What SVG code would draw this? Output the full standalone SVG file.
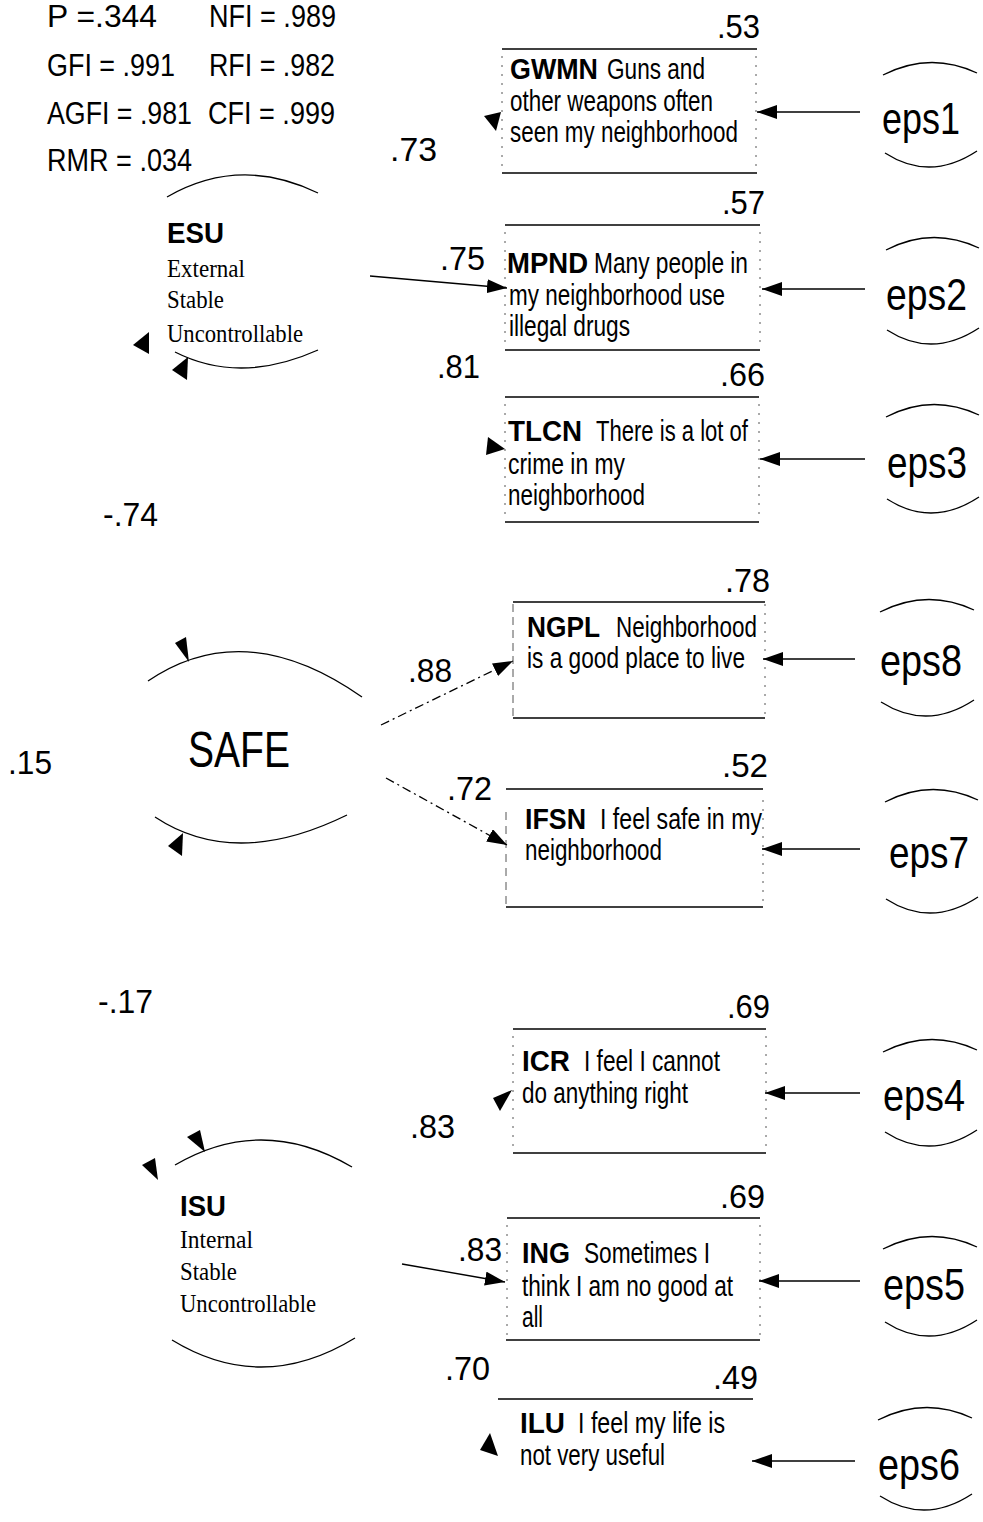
<svg xmlns="http://www.w3.org/2000/svg" width="983" height="1522" viewBox="0 0 983 1522">
<style>
text{font-family:"Liberation Sans",Arial,sans-serif;fill:#000}
.st{font-size:32px}
.num{font-size:34px}
.bx{font-size:29px}
.b{font-weight:bold}
.sf{font-family:"Liberation Serif","Times New Roman",serif;font-size:26px}
.eps{font-size:44px}
.ln{stroke:#000;stroke-width:1.4;fill:none}
.arc{stroke:#000;stroke-width:1.3;fill:none}
.side{stroke:#555;stroke-width:1;stroke-dasharray:2 7;fill:none}
.dd{stroke:#000;stroke-width:1.3;fill:none;stroke-dasharray:9 4 2 4}
.ah{fill:#000}
</style>
<defs>
<marker id="arr" viewBox="0 0 20 14" refX="20" refY="7" markerWidth="20" markerHeight="14" orient="auto" markerUnits="userSpaceOnUse"><path d="M0,0 L20,7 L0,14 z" fill="#000"/></marker>
</defs>
<rect width="983" height="1522" fill="#fff"/>

<g id="fit-stats">
<text class="st" x="47" y="27" textLength="110" lengthAdjust="spacingAndGlyphs">P =.344</text>
<text class="st" x="209" y="27" textLength="127" lengthAdjust="spacingAndGlyphs">NFI = .989</text>
<text class="st" x="47" y="76" textLength="128" lengthAdjust="spacingAndGlyphs">GFI = .991</text>
<text class="st" x="209" y="76" textLength="126" lengthAdjust="spacingAndGlyphs">RFI = .982</text>
<text class="st" x="47" y="124" textLength="145" lengthAdjust="spacingAndGlyphs">AGFI = .981</text>
<text class="st" x="208" y="124" textLength="127" lengthAdjust="spacingAndGlyphs">CFI = .999</text>
<text class="st" x="47" y="171" textLength="145" lengthAdjust="spacingAndGlyphs">RMR = .034</text>
</g>

<g id="ESU">
<path class="arc" d="M167 197 Q240 155 318 193"/>
<path class="arc" d="M175 352 Q240 385 318 350"/>
<text class="b" x="167" y="243" font-size="29" textLength="57" lengthAdjust="spacingAndGlyphs">ESU</text>
<text class="sf" x="167" y="277" textLength="78" lengthAdjust="spacingAndGlyphs">External</text>
<text class="sf" x="167" y="308" textLength="57" lengthAdjust="spacingAndGlyphs">Stable</text>
<text class="sf" x="167" y="342" textLength="136" lengthAdjust="spacingAndGlyphs">Uncontrollable</text>
<polygon class="ah" points="133,345 149,332 149,354"/>
<polygon class="ah" points="172,370 188,357 187,380"/>
</g>

<g id="SAFE">
<path class="arc" d="M148 681 Q245 615 362 697"/>
<path class="arc" d="M155 817 Q235 870 347 815"/>
<text x="188" y="767" font-size="50" textLength="102" lengthAdjust="spacingAndGlyphs">SAFE</text>
<polygon class="ah" points="175,643 186,637 189,662"/>
<polygon class="ah" points="168,846 183,833 182,856"/>
</g>

<g id="ISU">
<path class="arc" d="M175 1165 Q262 1114 352 1167"/>
<path class="arc" d="M172 1340 Q262 1395 355 1338"/>
<text class="b" x="180" y="1216" font-size="29" textLength="46" lengthAdjust="spacingAndGlyphs">ISU</text>
<text class="sf" x="180" y="1248" textLength="73" lengthAdjust="spacingAndGlyphs">Internal</text>
<text class="sf" x="180" y="1280" textLength="57" lengthAdjust="spacingAndGlyphs">Stable</text>
<text class="sf" x="180" y="1312" textLength="136" lengthAdjust="spacingAndGlyphs">Uncontrollable</text>
<polygon class="ah" points="187,1137 200,1130 205,1152"/>
<polygon class="ah" points="142,1165 155,1158 158,1180"/>
</g>

<g id="GWMN">
<line class="ln" x1="502" y1="49" x2="757" y2="49"/>
<line class="ln" x1="502" y1="173" x2="757" y2="173"/>
<line class="side" x1="502" y1="56" x2="502" y2="170"/>
<line class="side" x1="756" y1="56" x2="756" y2="170"/>
<text class="bx b" x="510" y="79" textLength="88" lengthAdjust="spacingAndGlyphs">GWMN</text>
<text class="bx" x="607" y="79" textLength="98" lengthAdjust="spacingAndGlyphs">Guns and</text>
<text class="bx" x="510" y="111" textLength="203" lengthAdjust="spacingAndGlyphs">other weapons often</text>
<text class="bx" x="510" y="142" textLength="228" lengthAdjust="spacingAndGlyphs">seen my neighborhood</text>
<polygon class="ah" points="484,116 501,112 496,131"/>
</g>

<g id="MPND">
<line class="ln" x1="505" y1="225" x2="760" y2="225"/>
<line class="ln" x1="505" y1="350" x2="760" y2="350"/>
<line class="side" x1="505" y1="232" x2="505" y2="346"/>
<line class="side" x1="760" y1="232" x2="760" y2="346"/>
<text class="bx b" x="507" y="273" textLength="81" lengthAdjust="spacingAndGlyphs">MPND</text>
<text class="bx" x="594" y="273" textLength="154" lengthAdjust="spacingAndGlyphs">Many people in</text>
<text class="bx" x="509" y="305" textLength="216" lengthAdjust="spacingAndGlyphs">my neighborhood use</text>
<text class="bx" x="509" y="336" textLength="121" lengthAdjust="spacingAndGlyphs">illegal drugs</text>
</g>

<g id="TLCN">
<line class="ln" x1="505" y1="397" x2="759" y2="397"/>
<line class="ln" x1="505" y1="522" x2="759" y2="522"/>
<line class="side" x1="505" y1="404" x2="505" y2="518"/>
<line class="side" x1="759" y1="404" x2="759" y2="518"/>
<text class="bx b" x="508" y="441" textLength="74" lengthAdjust="spacingAndGlyphs">TLCN</text>
<text class="bx" x="596" y="441" textLength="152" lengthAdjust="spacingAndGlyphs">There is a lot of</text>
<text class="bx" x="508" y="474" textLength="117" lengthAdjust="spacingAndGlyphs">crime in my</text>
<text class="bx" x="508" y="505" textLength="137" lengthAdjust="spacingAndGlyphs">neighborhood</text>
<polygon class="ah" points="488,437 505,449 486,455"/>
</g>

<g id="NGPL">
<line class="ln" x1="513" y1="602" x2="765" y2="602"/>
<line class="ln" x1="513" y1="718" x2="765" y2="718"/>
<line class="side" x1="513" y1="604" x2="513" y2="716" style="stroke-dasharray:8 5"/>
<line class="side" x1="765" y1="604" x2="765" y2="716"/>
<text class="bx b" x="527" y="637" textLength="73" lengthAdjust="spacingAndGlyphs">NGPL</text>
<text class="bx" x="616" y="637" textLength="141" lengthAdjust="spacingAndGlyphs">Neighborhood</text>
<text class="bx" x="527" y="668" textLength="218" lengthAdjust="spacingAndGlyphs">is a good place to live</text>
</g>

<g id="IFSN">
<line class="ln" x1="506" y1="789" x2="763" y2="789"/>
<line class="ln" x1="506" y1="907" x2="763" y2="907"/>
<line class="side" x1="506" y1="812" x2="506" y2="905" style="stroke-dasharray:8 6"/>
<line class="side" x1="763" y1="800" x2="763" y2="905"/>
<text class="bx b" x="525" y="829" textLength="61" lengthAdjust="spacingAndGlyphs">IFSN</text>
<text class="bx" x="600" y="829" textLength="162" lengthAdjust="spacingAndGlyphs">I feel safe in my</text>
<text class="bx" x="525" y="860" textLength="137" lengthAdjust="spacingAndGlyphs">neighborhood</text>
</g>

<g id="ICR">
<line class="ln" x1="513" y1="1029" x2="766" y2="1029"/>
<line class="ln" x1="513" y1="1153" x2="766" y2="1153"/>
<line class="side" x1="513" y1="1036" x2="513" y2="1151"/>
<line class="side" x1="766" y1="1036" x2="766" y2="1151"/>
<text class="bx b" x="522" y="1071" textLength="48" lengthAdjust="spacingAndGlyphs">ICR</text>
<text class="bx" x="584" y="1071" textLength="136" lengthAdjust="spacingAndGlyphs">I feel I cannot</text>
<text class="bx" x="522" y="1103" textLength="166" lengthAdjust="spacingAndGlyphs">do anything right</text>
<polygon class="ah" points="512,1090 493,1098 500,1111"/>
</g>

<g id="ING">
<line class="ln" x1="507" y1="1218" x2="760" y2="1218"/>
<line class="ln" x1="506" y1="1340" x2="760" y2="1340"/>
<line class="side" x1="507" y1="1225" x2="507" y2="1337"/>
<line class="side" x1="760" y1="1225" x2="760" y2="1337"/>
<text class="bx b" x="522" y="1263" textLength="48" lengthAdjust="spacingAndGlyphs">ING</text>
<text class="bx" x="584" y="1263" textLength="126" lengthAdjust="spacingAndGlyphs">Sometimes I</text>
<text class="bx" x="522" y="1296" textLength="211" lengthAdjust="spacingAndGlyphs">think I am no good at</text>
<text class="bx" x="522" y="1327" textLength="21" lengthAdjust="spacingAndGlyphs">all</text>
</g>

<g id="ILU">
<line class="ln" x1="498" y1="1399" x2="753" y2="1399"/>
<text class="bx b" x="520" y="1433" textLength="45" lengthAdjust="spacingAndGlyphs">ILU</text>
<text class="bx" x="578" y="1433" textLength="147" lengthAdjust="spacingAndGlyphs">I feel my life is</text>
<text class="bx" x="520" y="1465" textLength="145" lengthAdjust="spacingAndGlyphs">not very useful</text>
<polygon class="ah" points="490,1433 498,1456 480,1450"/>
</g>

<g id="eps1">
<path class="arc" d="M883 75 Q930 51 977 73"/>
<path class="arc" d="M885 153 Q930 182 977 151"/>
<text class="eps" x="882" y="134" textLength="78" lengthAdjust="spacingAndGlyphs">eps1</text>
</g>
<g id="eps2">
<path class="arc" d="M886 250 Q932 226 979 248"/>
<path class="arc" d="M887 330 Q932 359 979 328"/>
<text class="eps" x="886" y="310" textLength="81" lengthAdjust="spacingAndGlyphs">eps2</text>
</g>
<g id="eps3">
<path class="arc" d="M886 417 Q932 393 979 415"/>
<path class="arc" d="M887 499 Q932 528 979 497"/>
<text class="eps" x="887" y="478" textLength="80" lengthAdjust="spacingAndGlyphs">eps3</text>
</g>
<g id="eps8">
<path class="arc" d="M880 612 Q927 588 974 610"/>
<path class="arc" d="M881 702 Q927 731 974 700"/>
<text class="eps" x="880" y="676" textLength="82" lengthAdjust="spacingAndGlyphs">eps8</text>
</g>
<g id="eps7">
<path class="arc" d="M885 802 Q931 778 978 800"/>
<path class="arc" d="M886 899 Q931 928 978 897"/>
<text class="eps" x="889" y="868" textLength="80" lengthAdjust="spacingAndGlyphs">eps7</text>
</g>
<g id="eps4">
<path class="arc" d="M883 1052 Q930 1028 977 1050"/>
<path class="arc" d="M885 1132 Q930 1161 977 1130"/>
<text class="eps" x="883" y="1111" textLength="82" lengthAdjust="spacingAndGlyphs">eps4</text>
</g>
<g id="eps5">
<path class="arc" d="M883 1249 Q930 1225 977 1247"/>
<path class="arc" d="M885 1322 Q930 1351 977 1320"/>
<text class="eps" x="883" y="1300" textLength="82" lengthAdjust="spacingAndGlyphs">eps5</text>
</g>
<g id="eps6">
<path class="arc" d="M878 1420 Q925 1396 972 1418"/>
<path class="arc" d="M880 1496 Q925 1525 972 1494"/>
<text class="eps" x="878" y="1480" textLength="82" lengthAdjust="spacingAndGlyphs">eps6</text>
</g>

<g id="connectors">
<line class="ln" x1="860" y1="112" x2="757" y2="112" marker-end="url(#arr)"/>
<line class="ln" x1="865" y1="289" x2="762" y2="289" marker-end="url(#arr)"/>
<line class="ln" x1="865" y1="459" x2="760" y2="459" marker-end="url(#arr)"/>
<line class="ln" x1="855" y1="659" x2="763" y2="659" marker-end="url(#arr)"/>
<line class="ln" x1="860" y1="849" x2="762" y2="849" marker-end="url(#arr)"/>
<line class="ln" x1="860" y1="1093" x2="765" y2="1093" marker-end="url(#arr)"/>
<line class="ln" x1="860" y1="1281" x2="759" y2="1281" marker-end="url(#arr)"/>
<line class="ln" x1="855" y1="1461" x2="752" y2="1461" marker-end="url(#arr)"/>
<line class="ln" x1="370" y1="276" x2="507" y2="288" marker-end="url(#arr)"/>
<line class="dd" x1="381" y1="725" x2="513" y2="661" marker-end="url(#arr)"/>
<line class="dd" x1="386" y1="778" x2="507" y2="845" marker-end="url(#arr)"/>
<line class="ln" x1="402" y1="1264" x2="505" y2="1282" marker-end="url(#arr)"/>
<text class="num" x="717" y="38" textLength="43" lengthAdjust="spacingAndGlyphs">.53</text>
<text class="num" x="390" y="161" textLength="47" lengthAdjust="spacingAndGlyphs">.73</text>
<text class="num" x="722" y="214" textLength="43" lengthAdjust="spacingAndGlyphs">.57</text>
<text class="num" x="440" y="270" textLength="45" lengthAdjust="spacingAndGlyphs">.75</text>
<text class="num" x="437" y="378" textLength="43" lengthAdjust="spacingAndGlyphs">.81</text>
<text class="num" x="720" y="386" textLength="45" lengthAdjust="spacingAndGlyphs">.66</text>
<text class="num" x="103" y="526" textLength="55" lengthAdjust="spacingAndGlyphs">-.74</text>
<text class="num" x="725" y="592" textLength="45" lengthAdjust="spacingAndGlyphs">.78</text>
<text class="num" x="408" y="682" textLength="44" lengthAdjust="spacingAndGlyphs">.88</text>
<text class="num" x="8" y="774" textLength="44" lengthAdjust="spacingAndGlyphs">.15</text>
<text class="num" x="722" y="777" textLength="46" lengthAdjust="spacingAndGlyphs">.52</text>
<text class="num" x="447" y="800" textLength="45" lengthAdjust="spacingAndGlyphs">.72</text>
<text class="num" x="98" y="1013" textLength="55" lengthAdjust="spacingAndGlyphs">-.17</text>
<text class="num" x="727" y="1018" textLength="43" lengthAdjust="spacingAndGlyphs">.69</text>
<text class="num" x="410" y="1138" textLength="45" lengthAdjust="spacingAndGlyphs">.83</text>
<text class="num" x="720" y="1208" textLength="45" lengthAdjust="spacingAndGlyphs">.69</text>
<text class="num" x="458" y="1261" textLength="44" lengthAdjust="spacingAndGlyphs">.83</text>
<text class="num" x="445" y="1380" textLength="45" lengthAdjust="spacingAndGlyphs">.70</text>
<text class="num" x="713" y="1389" textLength="45" lengthAdjust="spacingAndGlyphs">.49</text>
</g>
</svg>
